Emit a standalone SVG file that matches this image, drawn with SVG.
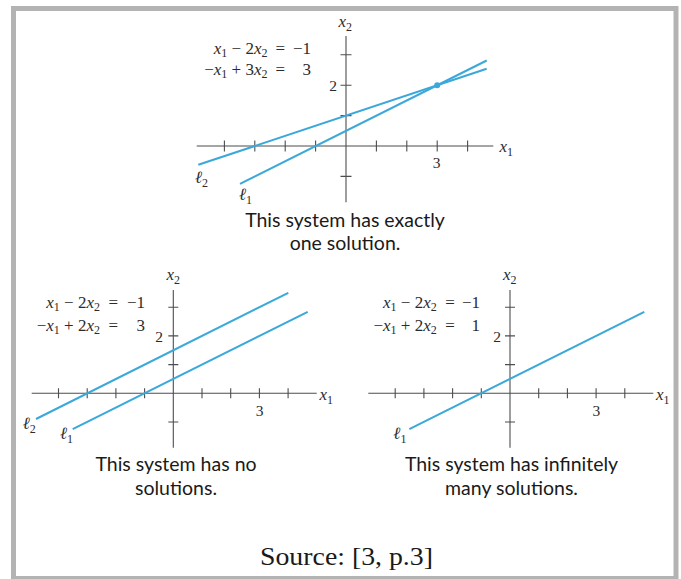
<svg xmlns="http://www.w3.org/2000/svg" width="681" height="579" viewBox="0 0 681 579">
<defs>
<style>
.frame{fill:#ffffff;stroke:#b3b3b3;stroke-width:5}
.axis{stroke:#4d4d4d;stroke-width:1.1;fill:none}
.line{stroke:#3aa8da;stroke-width:2;fill:none;stroke-linecap:butt}
.m{font-family:'Liberation Serif','DejaVu Serif',serif;font-size:17px;fill:#2b2b2b}
.v{font-style:italic}
.s{font-size:12px}
.num{font-family:'Liberation Serif','DejaVu Serif',serif;font-size:15.5px;fill:#2b2b2b}
.cap{font-family:Lato,'Liberation Sans',sans-serif;font-size:19.5px;fill:#1a1a1a;text-anchor:middle}
.src{font-family:'Liberation Serif','DejaVu Serif',serif;font-size:26px;fill:#1a1a1a}
</style>
</defs>
<rect class="frame" x="13.5" y="8.5" width="662.5" height="570"/>

<!-- Top graph: exactly one solution -->
<g id="graph-one">
<g class="axis">
<line x1="196.7" y1="146" x2="493.3" y2="146"/>
<line x1="346" y1="36" x2="346" y2="202.3"/>
<path d="M224.4 140.5V151.5M254.8 140.5V151.5M285.2 140.5V151.5M315.6 140.5V151.5M376.4 140.5V151.5M406.8 140.5V151.5M437.2 140.5V151.5M467.6 140.5V151.5"/>
<path d="M340.5 54.8H351.5M340.5 85.2H351.5M340.5 115.6H351.5M340.5 176.4H351.5"/>
</g>
<text class="m v" x="499.5" y="151.5">x<tspan class="s" dy="4" font-style="normal">1</tspan></text>
<text class="m v" x="338.5" y="26.5">x<tspan class="s" dy="4" font-style="normal">2</tspan></text>
<text class="num" x="337" y="90.5" text-anchor="end">2</text>
<text class="num" x="436.7" y="168" text-anchor="middle">3</text>
<text class="m" x="267.5" y="53.5" text-anchor="end"><tspan class="v">x</tspan><tspan class="s" dy="3">1</tspan><tspan dy="-3"> − 2</tspan><tspan class="v">x</tspan><tspan class="s" dy="3">2</tspan></text>
<text class="m" x="275.5" y="53.5">=</text>
<text class="m" x="311" y="53.5" text-anchor="end">−1</text>
<text class="m" x="267.5" y="75" text-anchor="end">−<tspan class="v">x</tspan><tspan class="s" dy="3">1</tspan><tspan dy="-3"> + 3</tspan><tspan class="v">x</tspan><tspan class="s" dy="3">2</tspan></text>
<text class="m" x="275.5" y="75">=</text>
<text class="m" x="311" y="75" text-anchor="end">3</text>
<line class="line" x1="240" y1="183.8" x2="486.7" y2="60.5"/>
<line class="line" x1="198.3" y1="164.8" x2="486.7" y2="68.7"/>
<circle cx="437.2" cy="85.2" r="3" fill="#3aa8da"/>
<text class="m v" x="195" y="183">ℓ<tspan class="s" dy="4" font-style="normal">2</tspan></text>
<text class="m v" x="239" y="200">ℓ<tspan class="s" dy="4" font-style="normal">1</tspan></text>
<text class="cap" x="345" y="226.5">This system has exactly</text>
<text class="cap" x="345" y="250">one solution.</text>
</g>

<!-- Bottom-left graph: no solutions -->
<g id="graph-none">
<g class="axis">
<line x1="31.7" y1="393.3" x2="316.7" y2="393.3"/>
<line x1="173.3" y1="290" x2="173.3" y2="447.7"/>
<path d="M58.5 388.3V398.3M87.2 388.3V398.3M115.9 388.3V398.3M144.6 388.3V398.3M202 388.3V398.3M230.7 388.3V398.3M259.4 388.3V398.3M288.1 388.3V398.3"/>
<path d="M168.3 307.2H178.3M168.3 335.9H178.3M168.3 364.6H178.3M168.3 422H178.3"/>
</g>
<text class="m v" x="319.5" y="400">x<tspan class="s" dy="4" font-style="normal">1</tspan></text>
<text class="m v" x="166.5" y="280">x<tspan class="s" dy="4" font-style="normal">2</tspan></text>
<text class="num" x="163" y="342" text-anchor="end">2</text>
<text class="num" x="259.5" y="415.7" text-anchor="middle">3</text>
<text class="m" x="100" y="308.3" text-anchor="end"><tspan class="v">x</tspan><tspan class="s" dy="3">1</tspan><tspan dy="-3"> − 2</tspan><tspan class="v">x</tspan><tspan class="s" dy="3">2</tspan></text>
<text class="m" x="108.5" y="308.3">=</text>
<text class="m" x="145" y="308.3" text-anchor="end">−1</text>
<text class="m" x="100" y="331" text-anchor="end">−<tspan class="v">x</tspan><tspan class="s" dy="3">1</tspan><tspan dy="-3"> + 2</tspan><tspan class="v">x</tspan><tspan class="s" dy="3">2</tspan></text>
<text class="m" x="108.5" y="331">=</text>
<text class="m" x="145" y="331" text-anchor="end">3</text>
<line class="line" x1="36" y1="419" x2="288.3" y2="292.8"/>
<line class="line" x1="72.7" y1="429.2" x2="307.7" y2="311.8"/>
<text class="m v" x="22.7" y="429">ℓ<tspan class="s" dy="4" font-style="normal">2</tspan></text>
<text class="m v" x="60" y="439">ℓ<tspan class="s" dy="4" font-style="normal">1</tspan></text>
<text class="cap" x="176" y="471">This system has no</text>
<text class="cap" x="176" y="494.5">solutions.</text>
</g>

<!-- Bottom-right graph: infinitely many solutions -->
<g id="graph-infinite">
<g class="axis">
<line x1="368.3" y1="393.3" x2="653.3" y2="393.3"/>
<line x1="510" y1="290" x2="510" y2="447.7"/>
<path d="M395.2 388.3V398.3M423.9 388.3V398.3M452.6 388.3V398.3M481.3 388.3V398.3M538.7 388.3V398.3M567.4 388.3V398.3M596.1 388.3V398.3M624.8 388.3V398.3"/>
<path d="M505 307.2H515M505 335.9H515M505 364.6H515M505 422H515"/>
</g>
<text class="m v" x="656" y="400">x<tspan class="s" dy="4" font-style="normal">1</tspan></text>
<text class="m v" x="503" y="280">x<tspan class="s" dy="4" font-style="normal">2</tspan></text>
<text class="num" x="501" y="342" text-anchor="end">2</text>
<text class="num" x="596.3" y="415.7" text-anchor="middle">3</text>
<text class="m" x="436.7" y="308.3" text-anchor="end"><tspan class="v">x</tspan><tspan class="s" dy="3">1</tspan><tspan dy="-3"> − 2</tspan><tspan class="v">x</tspan><tspan class="s" dy="3">2</tspan></text>
<text class="m" x="445.2" y="308.3">=</text>
<text class="m" x="480" y="308.3" text-anchor="end">−1</text>
<text class="m" x="436.7" y="331" text-anchor="end">−<tspan class="v">x</tspan><tspan class="s" dy="3">1</tspan><tspan dy="-3"> + 2</tspan><tspan class="v">x</tspan><tspan class="s" dy="3">2</tspan></text>
<text class="m" x="445.2" y="331">=</text>
<text class="m" x="480" y="331" text-anchor="end">1</text>
<line class="line" x1="409.3" y1="429.2" x2="644.3" y2="311.8"/>
<text class="m v" x="393.3" y="439">ℓ<tspan class="s" dy="4" font-style="normal">1</tspan></text>
<text class="cap" x="511.5" y="471">This system has infinitely</text>
<text class="cap" x="511.5" y="494.5">many solutions.</text>
</g>

<text class="src" x="260" y="565" textLength="173" lengthAdjust="spacingAndGlyphs">Source: [3, p.3]</text>
</svg>
